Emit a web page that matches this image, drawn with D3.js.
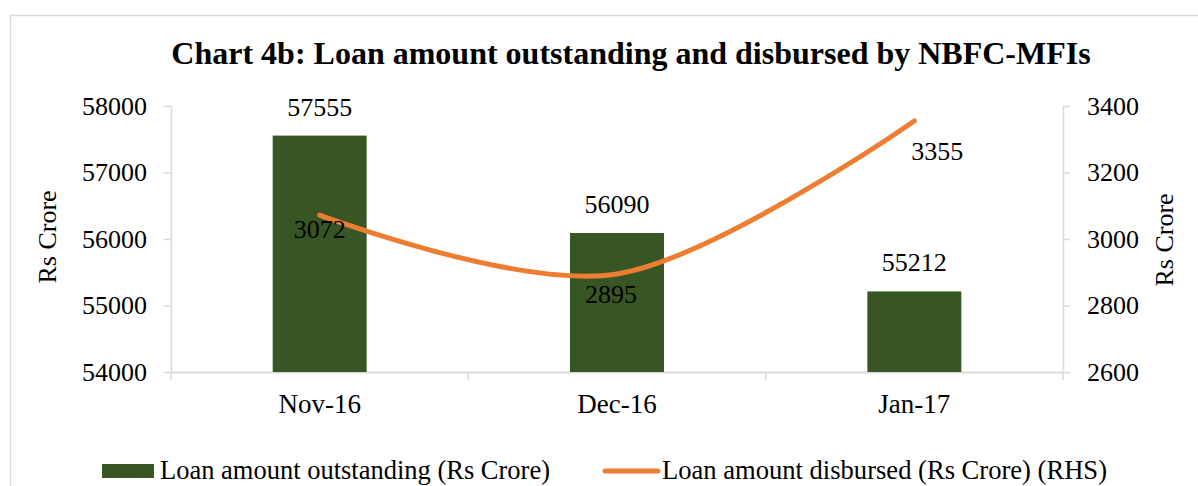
<!DOCTYPE html>
<html>
<head>
<meta charset="utf-8">
<script src="https://cdn.jsdelivr.net/npm/d3@7"></script>
<style>
  body { margin: 0; background: #fff; }
  text { font-family: "Liberation Serif", "Times New Roman", serif; fill: #000; }
</style>
</head>
<body>
<script>
// Chart data
const months = ["Nov-16", "Dec-16", "Jan-17"];
const outstanding = [57555, 56090, 55212];
const disbursed = [3072, 2895, 3355];
const leftTicks = [54000, 55000, 56000, 57000, 58000];
const rightTicks = [2600, 2800, 3000, 3200, 3400];

const W = 1198, H = 486;
const svg = d3.select("body").append("svg")
    .attr("width", W)
    .attr("height", H);

// outer frame (only top and left edges visible in the crop)
svg.append("path")
    .attr("d", "M10.5," + H + " V15.5 H" + W)
    .attr("fill", "none")
    .attr("stroke", "#d9d9d9")
    .attr("stroke-width", 1.5);

const plot = { left: 171, right: 1063, top: 106, bottom: 372 };
const axisColor = "#d9d9d9";

const x = d3.scaleBand().domain(months).range([plot.left, plot.right]);
const yL = d3.scaleLinear().domain([54000, 58000]).range([plot.bottom, plot.top]);
const yR = d3.scaleLinear().domain([2600, 3400]).range([plot.bottom, plot.top]);
const barW = x.bandwidth() * 0.316;

// title
svg.append("text")
    .attr("x", 631)
    .attr("y", 64)
    .attr("text-anchor", "middle")
    .attr("font-size", 32)
    .attr("font-weight", "bold")
    .text("Chart 4b: Loan amount outstanding and disbursed by NBFC-MFIs");

// left axis
const gL = svg.append("g")
    .attr("transform", "translate(" + plot.left + ",0)")
    .call(d3.axisLeft(yL).tickValues(leftTicks).tickSize(7).tickSizeOuter(0).tickPadding(17).tickFormat(d3.format("d")));
// right axis
const gR = svg.append("g")
    .attr("transform", "translate(" + plot.right + ",0)")
    .call(d3.axisRight(yR).tickValues(rightTicks).tickSize(7).tickSizeOuter(0).tickPadding(17).tickFormat(d3.format("d")));

[gL, gR].forEach(g => {
    g.select(".domain").attr("stroke", axisColor).attr("stroke-width", 1.5);
    g.selectAll(".tick line").attr("stroke", axisColor).attr("stroke-width", 1.5);
    g.selectAll(".tick text").attr("font-size", 26).attr("fill", "#000");
});

// bottom axis: category labels with ticks between categories
const gB = svg.append("g")
    .attr("transform", "translate(0," + plot.bottom + ")")
    .call(d3.axisBottom(x).tickSize(0).tickPadding(22));
gB.select(".domain").attr("stroke", axisColor).attr("stroke-width", 2);
gB.selectAll(".tick text").attr("font-size", 27).attr("fill", "#000")
    .attr("dy", "0.71em");
const bounds = months.map(m => x(m)).concat([plot.right]);
gB.selectAll(".sep").data(bounds).join("line")
    .attr("class", "sep")
    .attr("x1", d => d).attr("x2", d => d)
    .attr("y1", 0).attr("y2", 8)
    .attr("stroke", axisColor)
    .attr("stroke-width", 1.5);

// axis titles
svg.append("text")
    .attr("transform", "translate(56,237) rotate(-90)")
    .attr("text-anchor", "middle")
    .attr("font-size", 26)
    .text("Rs Crore");
svg.append("text")
    .attr("transform", "translate(1173,240) rotate(-90)")
    .attr("text-anchor", "middle")
    .attr("font-size", 26)
    .text("Rs Crore");

// bars
const barColor = "#375623";
svg.selectAll(".bar").data(months).join("rect")
    .attr("class", "bar")
    .attr("x", (d) => x(d) + x.bandwidth() / 2 - barW / 2)
    .attr("y", (d, i) => yL(outstanding[i]))
    .attr("width", barW)
    .attr("height", (d, i) => plot.bottom - yL(outstanding[i]))
    .attr("fill", barColor);

// bar labels
svg.selectAll(".barlab").data(months).join("text")
    .attr("class", "barlab")
    .attr("x", d => x(d) + x.bandwidth() / 2)
    .attr("y", (d, i) => yL(outstanding[i]) - 20)
    .attr("text-anchor", "middle")
    .attr("font-size", 26)
    .text((d, i) => outstanding[i]);

// line
const lineColor = "#ed7d31";
const line = d3.line()
    .x(d => x(d.m) + x.bandwidth() / 2)
    .y(d => yR(d.v))
    .curve(d3.curveCatmullRom.alpha(0));
const pts = months.map((m, i) => ({ m: m, v: disbursed[i] }));
svg.append("path")
    .datum(pts)
    .attr("d", line)
    .attr("fill", "none")
    .attr("stroke", lineColor)
    .attr("stroke-width", 5)
    .attr("stroke-linecap", "round");

// line labels (below / right of points, like Excel)
const lineLabOffset = [[0, 23], [-6, 29], [23, 39]];
svg.selectAll(".linelab").data(pts).join("text")
    .attr("class", "linelab")
    .attr("x", (d, i) => x(d.m) + x.bandwidth() / 2 + lineLabOffset[i][0])
    .attr("y", (d, i) => yR(d.v) + lineLabOffset[i][1])
    .attr("text-anchor", "middle")
    .attr("font-size", 26)
    .text(d => d.v);

// legend
const legY = 471;
svg.append("rect")
    .attr("x", 102).attr("y", legY - 7)
    .attr("width", 52).attr("height", 14)
    .attr("fill", barColor);
svg.append("text")
    .attr("x", 160).attr("y", legY + 8)
    .attr("font-size", 26.5)
    .attr("textLength", 390)
    .attr("lengthAdjust", "spacingAndGlyphs")
    .text("Loan amount outstanding (Rs Crore)");
svg.append("line")
    .attr("x1", 605).attr("x2", 658)
    .attr("y1", legY).attr("y2", legY)
    .attr("stroke", lineColor)
    .attr("stroke-width", 5)
    .attr("stroke-linecap", "round");
svg.append("text")
    .attr("x", 662).attr("y", legY + 8)
    .attr("font-size", 26.5)
    .attr("textLength", 445)
    .attr("lengthAdjust", "spacingAndGlyphs")
    .text("Loan amount disbursed (Rs Crore) (RHS)");
</script>
</body>
</html>
